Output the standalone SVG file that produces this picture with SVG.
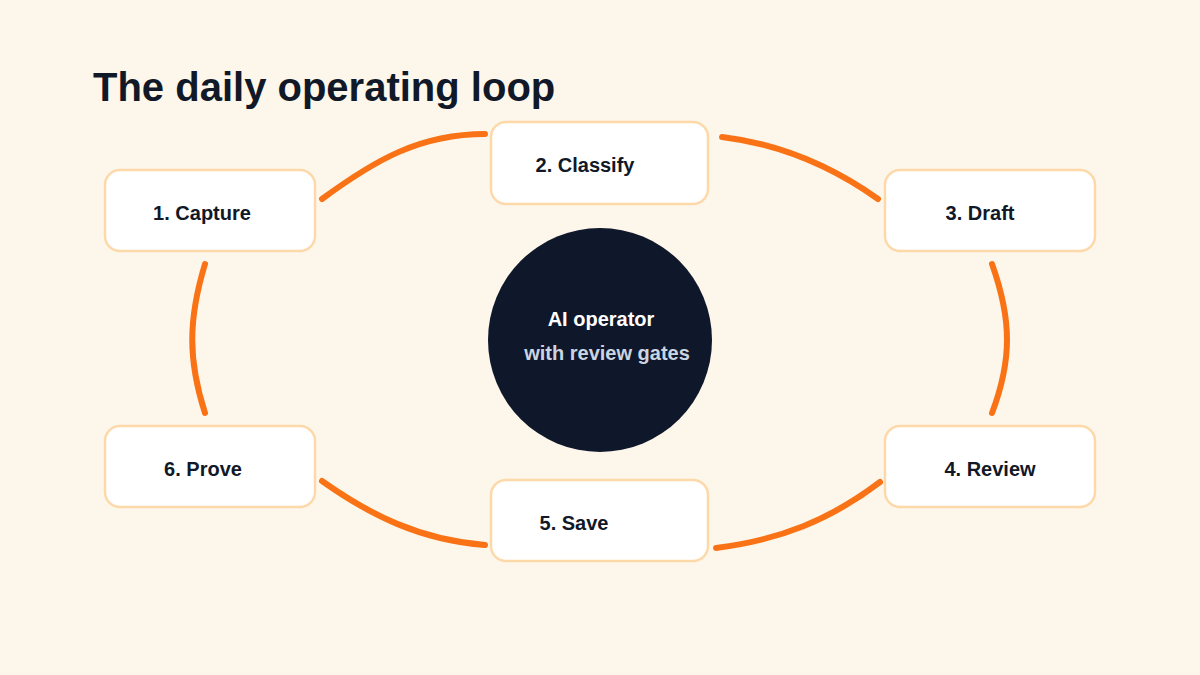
<svg xmlns="http://www.w3.org/2000/svg" width="1200" height="675" viewBox="0 0 1200 675">
<style>
.bg{fill:#fdf6ea}
.box{fill:#ffffff;stroke:#fdd9aa;stroke-width:2.5}
.lbl{font-family:"Liberation Sans",Arial,sans-serif;font-weight:bold;font-size:20px;fill:#111827;text-anchor:middle}
.title{font-family:"Liberation Sans",Arial,sans-serif;font-weight:bold;font-size:40px;fill:#111827}
.edge{fill:none;stroke:#f97316;stroke-width:6;stroke-linecap:round}
.ctext{font-family:"Liberation Sans",Arial,sans-serif;font-weight:bold;font-size:20px;text-anchor:middle}
</style>
<rect class="bg" x="0" y="0" width="1200" height="675"/>
<text class="title" x="93" y="101">The daily operating loop</text>
<g id="connectors">
<path class="edge" d="M322,199 C375,160 420,134 485,134"/>
<path class="edge" d="M722,137 C780,144 830,165 878,199"/>
<path class="edge" d="M992,264 C1012,320 1012,360 992,413"/>
<path class="edge" d="M880,482 C830,520 780,540 716,548"/>
<path class="edge" d="M485,545 C420,540 370,515 322,481"/>
<path class="edge" d="M205,413 C188,360 188,320 205,264"/>
</g>
<g id="center">
<circle cx="600" cy="340" r="112" fill="#0f172a"/>
<text class="ctext" x="601" y="326" fill="#ffffff">AI operator</text>
<text class="ctext" x="607" y="360" fill="#cbd5e1">with review gates</text>
</g>
<g id="capture">
<rect class="box" x="105" y="170" width="210" height="81" rx="15"/>
<text class="lbl" x="202" y="220">1. Capture</text>
</g>
<g id="classify">
<rect class="box" x="491" y="122" width="217" height="82" rx="15"/>
<text class="lbl" x="585" y="172">2. Classify</text>
</g>
<g id="draft">
<rect class="box" x="885" y="170" width="210" height="81" rx="15"/>
<text class="lbl" x="980" y="220">3. Draft</text>
</g>
<g id="review">
<rect class="box" x="885" y="426" width="210" height="81" rx="15"/>
<text class="lbl" x="990" y="476">4. Review</text>
</g>
<g id="save">
<rect class="box" x="491" y="480" width="217" height="81" rx="15"/>
<text class="lbl" x="574" y="530">5. Save</text>
</g>
<g id="prove">
<rect class="box" x="105" y="426" width="210" height="81" rx="15"/>
<text class="lbl" x="203" y="476">6. Prove</text>
</g>
</svg>
